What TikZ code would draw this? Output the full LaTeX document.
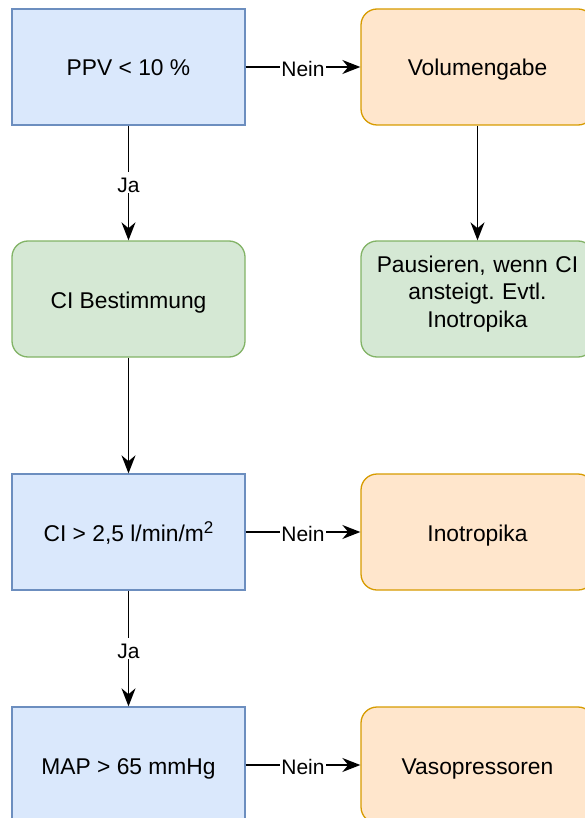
\documentclass[tikz,border=0pt]{standalone}
\usepackage{fontspec}
\setmainfont{Liberation Sans}
\usetikzlibrary{arrows.meta}
\definecolor{blueFill}{HTML}{DAE8FC}
\definecolor{blueLine}{HTML}{6C8EBF}
\definecolor{greenFill}{HTML}{D5E8D4}
\definecolor{greenLine}{HTML}{82B366}
\definecolor{orangeFill}{HTML}{FFE6CC}
\definecolor{orangeLine}{HTML}{D79B00}
\newcommand{\hochzwei}{\raisebox{8pt}{\fontsize{17}{20}\selectfont 2}}

\begin{document}
\begin{tikzpicture}[x=1pt,y=-1pt]
\fontsize{22.8}{27.5}\selectfont
\frenchspacing
\tikzset{
  BoxStyle/.style = {draw, line width=1.3pt, minimum width=233pt,
                     minimum height=116pt, align=center, inner sep=4pt},
  OneLine/.style = {text height=18pt, text depth=0pt},
  BlueBox/.style = {BoxStyle, OneLine, fill=blueFill, draw=blueLine},
  GreenBox/.style = {BoxStyle, fill=greenFill, draw=greenLine,
                     rounded corners=16pt},
  OrangeBox/.style = {BoxStyle, OneLine, fill=orangeFill, draw=orangeLine,
                      rounded corners=16pt},
  EdgeStyle/.style = {line width=1.6pt, -{Stealth[length=18pt,width=14pt]}},
  LabelStyle/.style = {fill=white, inner sep=1pt, text height=19pt,
                       text depth=0pt, font=\fontsize{21}{25}\selectfont},
}
  \useasboundingbox (0,0) rectangle (585,818);
  \clip (0,0) rectangle (585,818);

  % Entscheidungen
  \node[BlueBox] (ppv) at (128.5,67) {PPV < 10 \%};
  \node[BlueBox] (ci)  at (128.5,532) {CI > 2,5 l/min/m\hochzwei};
  \node[BlueBox] (map) at (128.5,765) {MAP > 65 mmHg};

  % Massnahmen
  \node[GreenBox, OneLine] (cib) at (128.5,299) {CI Bestimmung};
  \node[GreenBox, text width=220pt, text height=0pt, text depth=54pt]
    (pause) at (477.5,299) {Pausieren, wenn CI\\ansteigt. Evtl.\\Inotropika};
  \node[OrangeBox] (vol)  at (477.5,67) {Volumengabe};
  \node[OrangeBox] (ino)  at (477.5,532) {Inotropika};
  \node[OrangeBox] (vaso) at (477.5,765) {Vasopressoren};

  % Pfeile
  \draw[EdgeStyle] (ppv) -- node[LabelStyle] {Nein} (vol);
  \draw[EdgeStyle] (ppv) -- node[LabelStyle] {Ja} (cib);
  \draw[EdgeStyle] (vol) -- (pause);
  \draw[EdgeStyle] (cib) -- (ci);
  \draw[EdgeStyle] (ci) -- node[LabelStyle] {Nein} (ino);
  \draw[EdgeStyle] (ci) -- node[LabelStyle] {Ja} (map);
  \draw[EdgeStyle] (map) -- node[LabelStyle] {Nein} (vaso);

\end{tikzpicture}
\end{document}
